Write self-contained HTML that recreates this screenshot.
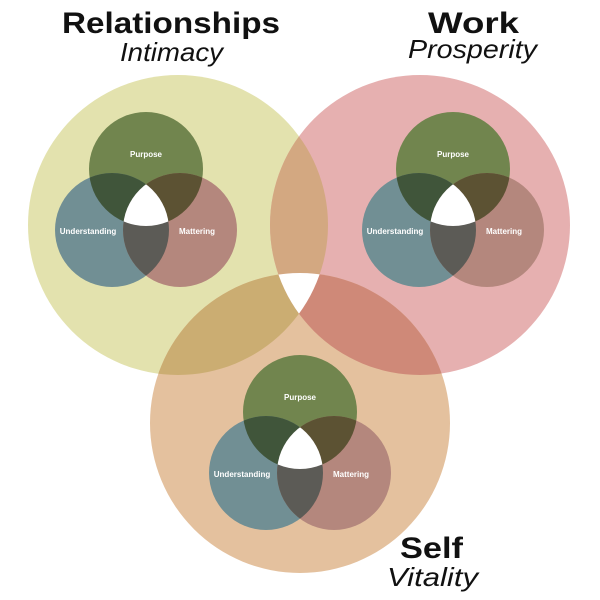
<!DOCTYPE html>
<html><head><meta charset="utf-8"><style>html,body{margin:0;padding:0;background:#fff}svg{display:block}</style></head><body>
<svg width="600" height="600" viewBox="0 0 600 600" xmlns="http://www.w3.org/2000/svg">
<defs>
<clipPath id="cR"><circle cx="178" cy="225" r="150"/></clipPath>
<clipPath id="cW"><circle cx="420" cy="225" r="150"/></clipPath>
<clipPath id="cS"><circle cx="300" cy="423" r="150"/></clipPath>
<clipPath id="cP"><circle cx="146" cy="169" r="57"/></clipPath>
<clipPath id="cU"><circle cx="112" cy="230" r="57"/></clipPath>
<clipPath id="cM"><circle cx="180" cy="230" r="57"/></clipPath>
<g id="venn">
<circle cx="146" cy="169" r="57" fill="#71854e"/>
<circle cx="112" cy="230" r="57" fill="#718f94"/>
<circle cx="180" cy="230" r="57" fill="#b4877d"/>
<circle cx="112" cy="230" r="57" fill="#40553a" clip-path="url(#cP)"/>
<circle cx="180" cy="230" r="57" fill="#5c5233" clip-path="url(#cP)"/>
<circle cx="180" cy="230" r="57" fill="#5c5b56" clip-path="url(#cU)"/>
<g clip-path="url(#cP)"><g clip-path="url(#cU)"><circle cx="180" cy="230" r="57" fill="#fff"/></g></g>
<g font-family="Liberation Sans, sans-serif" font-weight="bold" font-size="8" fill="#fff" text-anchor="middle">
<text x="146" y="157">Purpose</text>
<text x="88" y="234">Understanding</text>
<text x="197" y="234">Mattering</text>
</g>
</g>
</defs>
<circle cx="178" cy="225" r="150" fill="#e3e2ae"/>
<circle cx="420" cy="225" r="150" fill="#e6b0b0"/>
<circle cx="300" cy="423" r="150" fill="#e4c19e"/>
<circle cx="420" cy="225" r="150" fill="#d3a881" clip-path="url(#cR)"/>
<circle cx="300" cy="423" r="150" fill="#cbad72" clip-path="url(#cR)"/>
<circle cx="300" cy="423" r="150" fill="#cf8978" clip-path="url(#cW)"/>
<g clip-path="url(#cR)"><g clip-path="url(#cW)"><circle cx="300" cy="423" r="150" fill="#fff"/></g></g>
<use href="#venn"/>
<use href="#venn" transform="translate(307,0)"/>
<use href="#venn" transform="translate(154,243)"/>
<g font-family="Liberation Sans, sans-serif" fill="#111">
<text x="62" y="33" font-size="30" font-weight="bold" textLength="218" lengthAdjust="spacingAndGlyphs">Relationships</text>
<text x="120" y="61" font-size="26" font-style="italic" textLength="103" lengthAdjust="spacingAndGlyphs">Intimacy</text>
<text x="428" y="33" font-size="30" font-weight="bold" textLength="91" lengthAdjust="spacingAndGlyphs">Work</text>
<text x="408" y="58" font-size="26" font-style="italic" textLength="129" lengthAdjust="spacingAndGlyphs">Prosperity</text>
<text x="400" y="558" font-size="30" font-weight="bold" textLength="63" lengthAdjust="spacingAndGlyphs">Self</text>
<text x="387" y="586" font-size="26" font-style="italic" textLength="91" lengthAdjust="spacingAndGlyphs">Vitality</text>
</g>
</svg>
</body></html>
